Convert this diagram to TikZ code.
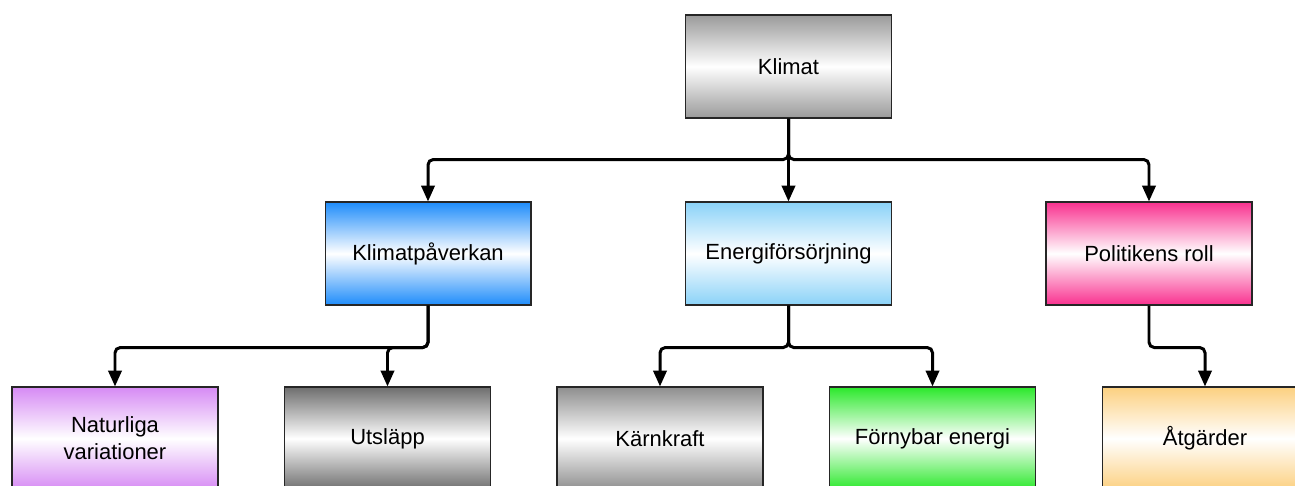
\documentclass[tikz,border=0pt]{standalone}
\usepackage{fontspec}
\setmainfont{Liberation Sans}
\usepackage{xcolor}
\usepackage{tikz}
\usetikzlibrary{arrows.meta, positioning}
\definecolor{klgray}{HTML}{9A9A9A}
\definecolor{klblue}{HTML}{1E8CFA}
\definecolor{kllight}{HTML}{8AD2F8}
\definecolor{klpink}{HTML}{F9318F}
\definecolor{klviolet}{HTML}{D68AF4}
\definecolor{kldark}{HTML}{6E6E6E}
\definecolor{klmid}{HTML}{8E8E8E}
\definecolor{klgreen}{HTML}{2BE82B}
\definecolor{klorange}{HTML}{FCD080}

\begin{document}
\begin{tikzpicture}[
  x=0.02cm, y=-0.02cm,
  topicbox/.style={rectangle, draw=black!85, line width=0.6pt, top color=#1, bottom color=#1, middle color=white, minimum width=4.12cm, minimum height=2.06cm, align=center, font=\fontsize{12.5}{15.5}\selectfont},
  conn/.style={-{Triangle[width=7.5pt,length=9pt]}, line width=1.7pt, rounded corners=3pt}
]
  \useasboundingbox (0,0) rectangle (1295,486);

  % Top
  \node[topicbox=klgray] (klimat) at (788.5,66.5) {Klimat};

  % Second row
  \node[topicbox=kllight, below=1.66cm of klimat] (energi) {Energiförsörjning};
  \node[topicbox=klblue, left=3.07cm of energi] (paverkan) {Klimatpåverkan};
  \node[topicbox=klpink, right=3.07cm of energi] (politik) {Politikens roll};

  % Third row
  \node[topicbox=klviolet] (natur) at (115,438.5) {Naturliga\\variationer};
  \node[topicbox=kldark, right=1.31cm of natur] (utslapp) {Utsläpp};
  \node[topicbox=klmid, right=1.31cm of utslapp] (karn) {Kärnkraft};
  \node[topicbox=klgreen, right=1.31cm of karn] (fornybar) {Förnybar energi};
  \node[topicbox=klorange, right=1.31cm of fornybar] (atgard) {Åtgärder};

  % Connectors
  \draw[conn] (klimat.south) -- ++(0,41) -| (paverkan.north);
  \draw[conn] (klimat.south) -- (energi.north);
  \draw[conn] (klimat.south) -- ++(0,41) -| (politik.north);

  \draw[conn] (paverkan.south) -- ++(0,42) -| (natur.north);
  \draw[conn] (paverkan.south) -- ++(0,42) -| (utslapp.north);
  \draw[conn] (energi.south) -- ++(0,42) -| (karn.north);
  \draw[conn] (energi.south) -- ++(0,42) -| (fornybar.north);
  \draw[conn] (politik.south) -- ++(0,42) -| (atgard.north);
\end{tikzpicture}
\end{document}
